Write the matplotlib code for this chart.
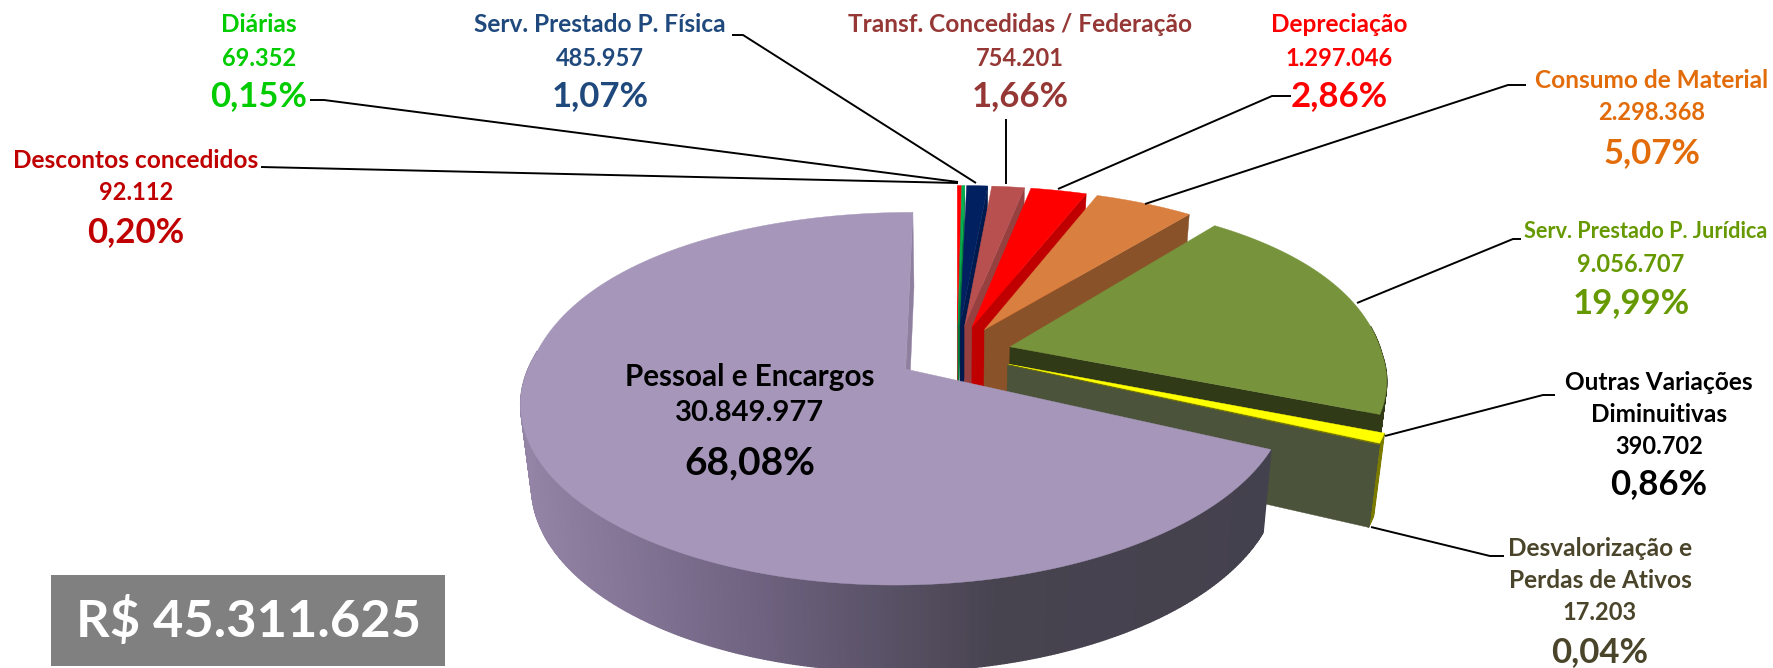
#!/usr/bin/env python3
import numpy as np
import matplotlib
matplotlib.use("Agg")
import matplotlib.pyplot as plt
from matplotlib.colors import to_rgb

plt.rcParams['font.family'] = ['Lato', 'DejaVu Sans']

# data, clockwise from 12 o'clock
nomes = ["Descontos concedidos", "Diárias", "Serv. Prestado P. Física",
         "Transf. Concedidas / Federação", "Depreciação", "Consumo de Material",
         "Serv. Prestado P. Jurídica", "Outras Variações\nDiminuitivas",
         "Desvalorização e\nPerdas de Ativos", "Pessoal e Encargos"]
valores = [92112, 69352, 485957, 754201, 1297046, 2298368, 9056707, 390702, 17203, 30849977]
total_txt = "R$ 45.311.625"

# styles
cor_topo = ["#FF0000", "#00B050", "#002060", "#B85050", "#FF0000", "#D98040",
            "#77933C", "#FFFF00", "#7A7A00", "#A697BA"]
cor_lado = ["#C00000", "#00803A", "#001A4D", "#964040", "#C00000", "#8A5228",
            "#313A17", "#7A7A00", "#4B533A", "#8F80A0"]
cor_texto = ["#C00000", "#00CC00", "#1F497D", "#953735", "#FF0000", "#E36C0A",
             "#669900", "#000000", "#4A452A", "#000000"]

# label centre x, y of the first line (pixels), x shift of value and percent
pos_label = [(136, 161, 0), (259, 24, 0), (600, 24, 0), (1020, 24, 0), (1339, 24, 0), (1652, 80, 0),
             (1646, 232, -15), (1659, 382, 0), (1600, 548, 0), (750, 377, 0)]
# line step, gap before the percent, name size, value size, percent size
fmt_label = [(32, 39, 17.6, 17, 25), (35, 37, 17.6, 17, 25), (35, 37, 17.6, 17, 25),
             (35, 37, 17.6, 17, 25), (35, 37, 17.6, 17, 25), (33, 40, 17.6, 17, 25),
             (33, 38, 15.6, 17, 25), (32, 38, 17.6, 17, 25), (32, 40, 17.6, 17, 25),
             (36, 50, 21.3, 21, 28)]
# leader lines (pixels); pessoal has none
leaders = [[(261, 167), (958, 183)],
           [(310, 100), (324, 100), (958, 182)],
           [(732, 35), (743, 35), (976, 183)],
           [(1006, 119), (1006, 184)],
           [(1291, 96), (1272, 96), (1058, 189)],
           [(1526, 85), (1508, 85), (1145, 204)],
           [(1521, 239), (1513, 239), (1357, 303)],
           [(1555, 395), (1543, 395), (1385, 436)],
           [(1504, 556), (1490, 556), (1371, 527)]]

# pie geometry (pixels)
CX, CY = 957, 354
R = 372
EXPL = 55
EXPL_GRANDE = 60


def proj(X, Z, baixo=False):
    z = np.asarray(Z, dtype=float) / R
    fx = np.where(z < 0, 1 / (1 - 0.16 * z), 1 / (1 - 0.17 * z))
    y = np.where(z < 0, 199 * z / (1 - 0.31 * z), 171 * z / (1 - 0.18 * z))
    x = np.asarray(X) * fx
    if baixo:
        x = x * 0.975
        y = y + 80 + 6 * z
    return CX + x, CY + y


def rampa(x):
    # colour of the big slice's outer wall, darker to the right
    xs = [520, 760, 1000, 1280]
    cs = [to_rgb(c) for c in ["#9484A6", "#6E6280", "#47434F", "#44414E"]]
    return tuple(np.interp(x, xs, [c[i] for c in cs]) for i in range(3))


def parede(ax, p0, p1, cor, lw=0.3):
    x0, z0 = p0
    x1, z1 = p1
    a = proj(np.array([x0, x1]), np.array([z0, z1]))
    b = proj(np.array([x1, x0]), np.array([z1, z0]), True)
    ax.fill(np.r_[a[0], b[0]], np.r_[a[1], b[1]], color=cor, lw=lw, zorder=2)


def fatia(ax, t1, t2, topo, lado, grande=False):
    m = (t1 + t2) / 2
    e = EXPL_GRANDE if grande else EXPL
    ex = e * np.sin(m)
    ez = -e * np.cos(m)
    n = max(int(np.degrees(t2 - t1) * 2), 2)
    t = np.linspace(t1, t2, n)
    ax_x = ex + R * np.sin(t)
    ax_z = ez - R * np.cos(t)
    # radial walls
    if np.sin(t1) < 0:
        parede(ax, (ex, ez), (ax_x[0], ax_z[0]), lado)
    if np.sin(t2) > -0.01:
        parede(ax, (ex, ez), (ax_x[-1], ax_z[-1]), lado)
    # outer wall
    for i in range(n - 1):
        if np.cos(t[i]) > 0.1 and np.cos(t[i + 1]) > 0.1:
            continue
        xm = proj(ax_x[i], ax_z[i])[0]
        cor = rampa(xm) if grande else lado
        parede(ax, (ax_x[i], ax_z[i]), (ax_x[i + 1], ax_z[i + 1]), cor, lw=1.0)
    # top face
    xs, ys = proj(np.r_[ex, ax_x], np.r_[ez, ax_z])
    ax.fill(xs, ys, color=topo, lw=0.3, zorder=2)


def main():
    fig = plt.figure(figsize=(17.73, 6.68), dpi=100)
    ax = fig.add_axes([0, 0, 1, 1])
    ax.set_xlim(0, 1773)
    ax.set_ylim(668, 0)
    ax.axis("off")

    total = sum(valores)
    angs = np.r_[0, np.cumsum(valores)] / total * 2 * np.pi
    for i in range(len(valores)):
        fatia(ax, angs[i], angs[i + 1], cor_topo[i], cor_lado[i], i == len(valores) - 1)

    for l in leaders:
        ax.plot([p[0] for p in l], [p[1] for p in l], color="black", lw=1.4, zorder=3,
                solid_capstyle="butt")

    for i, nome in enumerate(nomes):
        x, y, dx = pos_label[i]
        passo, gap, sz1, sz2, sz3 = fmt_label[i]
        valor = f"{valores[i]:,}".replace(",", ".")
        pct = f"{valores[i] / total * 100:.2f}%".replace(".", ",")
        c = cor_texto[i]
        for linha in nome.split("\n"):
            ax.text(x, y, linha, color=c, fontsize=sz1, fontweight="bold", ha="center", va="center", zorder=4)
            y += passo
        ax.text(x + dx, y, valor, color=c, fontsize=sz2, fontweight="bold",
                ha="center", va="center", zorder=4)
        y += gap
        ax.text(x + dx, y, pct, color=c, fontsize=sz3, fontweight="bold",
                ha="center", va="center", zorder=4)

    # total box
    ax.fill([51, 445, 445, 51], [575, 575, 666, 666], color="#808080", lw=0, zorder=2)
    ax.text(248, 621, total_txt, color="white", fontsize=37.7, fontweight="bold",
            ha="center", va="center", zorder=4)

    fig.savefig("out.png", dpi=100)


if __name__ == "__main__":
    main()
